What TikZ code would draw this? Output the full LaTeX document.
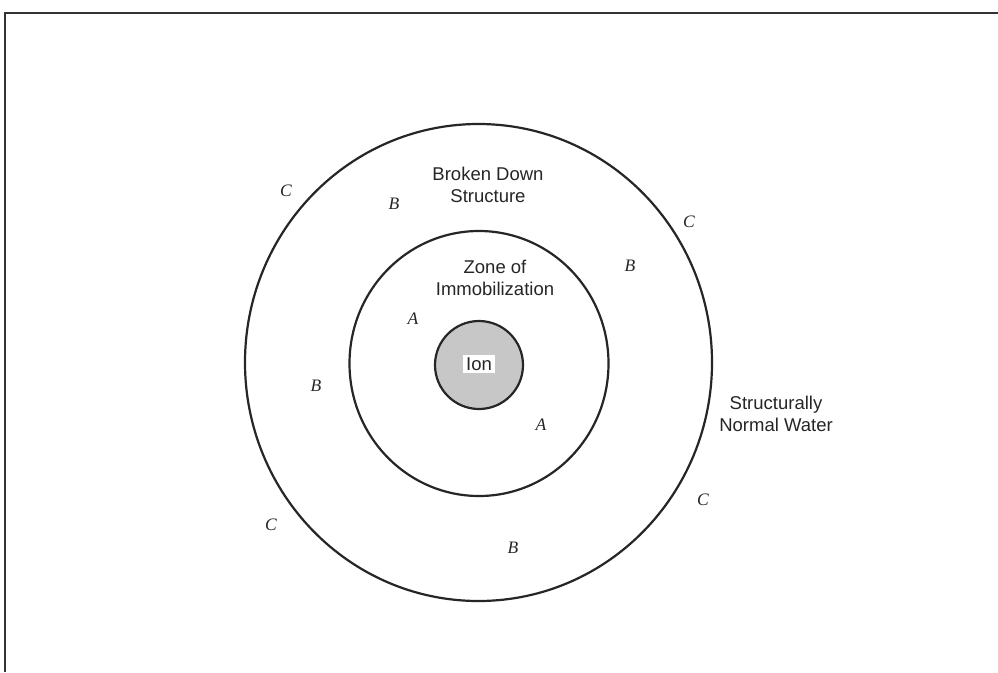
\documentclass[tikz,border=0pt]{standalone}
\usepackage{fontspec}
\setmainfont{Liberation Sans}
\newfontfamily\lettfont{Liberation Serif}
\begin{document}
\begin{tikzpicture}[x=1pt,y=-1pt,
  ring/.style={line width=2.2pt,draw=black!85},
  lbl/.style={font=\fontsize{18.5}{22.5}\selectfont,align=center,inner sep=0pt,text=black!85},
  let/.style={font=\lettfont\itshape\fontsize{17.5}{17.5}\selectfont,inner sep=0pt,text=black!85}]
\useasboundingbox (0,0) rectangle (998,672);
\fill[white] (0,0) rectangle (998,672);
% frame
\draw[line width=2pt,black!80] (5,672) -- (5,13) -- (998,13);
% circles
\draw[ring] (478.5,362.5) ellipse [x radius=233.5, y radius=238.5];
\draw[ring] (479,363.5) ellipse [x radius=129.5, y radius=132.5];
\draw[ring,fill=black!22] (479,365) circle [radius=44];
% texts
\node[lbl,fill=white,inner xsep=3pt,inner ysep=3pt] (ion) at (479,364) {Ion};
\node[lbl] (bds) at (488,185) {Broken Down\\Structure};
\node[lbl] (zoi) at (495,278) {Zone of\\Immobilization};
\node[lbl] (snw) at (776,414) {Structurally\\Normal Water};
% letters
\node[let] (c1) at (286,191) {C};
\node[let] (b1) at (394,204) {B};
\node[let] (c2) at (689,222) {C};
\node[let] (b2) at (630,266) {B};
\node[let] (a1) at (413,319) {A};
\node[let] (b3) at (316,386) {B};
\node[let] (a2) at (541,425) {A};
\node[let] (c3) at (271,525) {C};
\node[let] (c4) at (703,500) {C};
\node[let] (b4) at (513,548) {B};
\end{tikzpicture}
\end{document}
